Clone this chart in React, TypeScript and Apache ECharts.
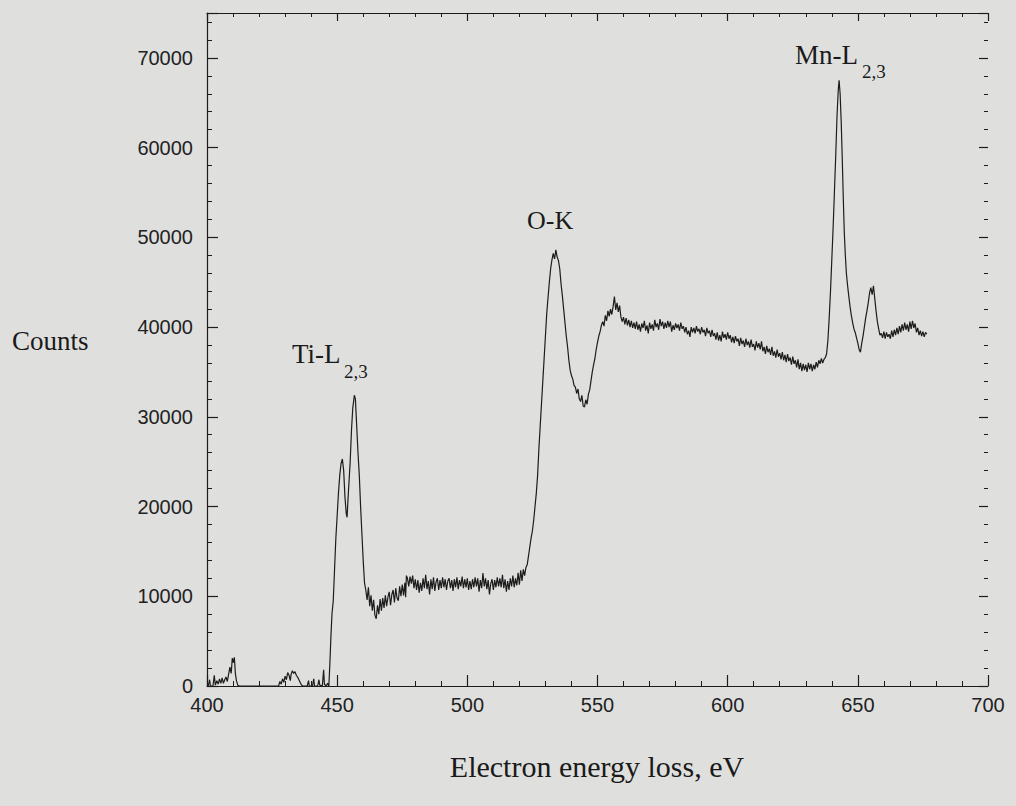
import React, { useEffect, useRef } from "react";
import * as echarts from "echarts";

// ---- data: [energy loss (eV), counts] ----
const preEdge: [number, number][] = [
  [400.5, 0], [401, 700], [401.3, 0], [402.3, 0], [402.8, 1200], [403.2, 100], [403.8, 600], [404.3, 200],
  [404.8, 800], [405.3, 300], [405.8, 900], [406.3, 300], [406.8, 700], [407.3, 1000], [407.8, 500],
  [408.3, 1300], [408.8, 2100], [409.3, 1400], [409.7, 3100], [410.1, 2600], [410.5, 3200], [410.9, 1400],
  [411.3, 600], [411.8, 100], [412.3, 0], [427.5, 0], [428, 500], [428.5, 200], [429, 800], [429.5, 400],
  [430, 1100], [430.5, 700], [431, 1500], [431.5, 1200], [432, 600], [432.3, 1300], [432.8, 1700],
  [433.3, 1400], [433.8, 1600], [434.3, 1200], [434.8, 1000], [435.3, 700], [435.8, 400], [436.3, 100],
  [436.8, 0], [438.5, 0], [439, 600], [439.3, 0], [440.5, 0], [441, 800], [441.3, 0], [442.5, 0],
  [443, 700], [443.3, 100], [444.3, 0], [444.8, 1800], [445.1, 200], [445.8, 0], [446.3, 300],
];

const titaniumEdge: [number, number][] = [
  [446.8, 0], [447.2, 2500], [447.6, 5500], [448, 8000], [448.5, 9500], [449, 13000], [449.5, 16500],
  [450, 19000], [450.5, 21500], [451, 23500], [451.5, 24800], [452, 25300], [452.5, 24000], [453, 21000],
  [453.5, 19200], [453.8, 18800], [454.2, 21000], [455, 25000], [455.5, 28500], [456, 31000], [456.6, 32400],
  [457, 32000], [457.5, 29000], [458, 26000], [458.5, 23500], [459, 20000], [459.5, 17000], [460, 14000],
  [460.5, 11500], [461, 10700], [461.5, 9600], [462, 11000], [462.5, 8900], [463, 10100], [463.5, 8400],
  [464, 9600], [464.5, 7900], [465, 7500], [465.5, 9000], [466, 8000], [466.5, 9700], [467, 8400],
  [467.5, 9800], [468, 8700], [468.5, 10100], [469, 8900], [469.5, 9900], [470, 10500], [470.5, 9000],
  [471, 10200], [471.5, 10700], [472, 9300], [472.5, 10900], [473, 9800], [473.5, 9500], [474, 11100],
  [474.5, 10000], [475, 11300], [475.5, 10100], [476, 11500], [476.3, 9900], [476.6, 12300],
];

const preOxygenPlateau: [number, number][] = [
  [477, 12000], [477.5, 11100], [478, 12200], [478.5, 11400], [479, 12300], [479.5, 10900], [480, 11900],
  [480.5, 10700], [481, 11800], [481.5, 10400], [482, 11500], [482.5, 10600], [483, 12000], [483.5, 10900],
  [484, 12400], [484.5, 10800], [485, 11700], [485.5, 10200], [486, 11900], [486.5, 10800], [487, 12100],
  [487.5, 10600], [488, 11600], [488.5, 12000], [489, 10700], [489.5, 11800], [490, 10900], [490.5, 12100],
  [491, 11000], [491.5, 11900], [492, 10700], [492.5, 11700], [493, 12000], [493.5, 10900], [494, 11800],
  [494.5, 10600], [495, 11900], [495.5, 11000], [496, 12100], [496.5, 10800], [497, 11800], [497.5, 11100],
  [498, 12200], [498.5, 10900], [499, 11900], [499.5, 11000], [500, 12000], [500.5, 10700], [501, 11700],
  [501.5, 10800], [502, 11900], [502.5, 11000], [503, 12100], [503.5, 11100], [504, 12000], [504.5, 10500],
  [505, 11800], [505.5, 10900], [506, 12600], [506.5, 11100], [507, 12000], [507.5, 10800], [508, 11800],
  [508.5, 10200], [509, 11400], [509.5, 11900], [510, 10700], [510.5, 11800], [511, 11000], [511.5, 12100],
  [512, 11100], [512.5, 12000], [513, 11000], [513.5, 12400], [514, 10900], [514.5, 11900], [515, 10500],
  [515.5, 11700], [516, 10700], [516.5, 12000], [517, 11100], [517.5, 12300], [518, 11000], [518.5, 12000],
  [519, 11200], [519.5, 12600], [520, 11300], [520.5, 12900], [521, 11700], [521.5, 13000], [522, 12300],
];

const oxygenEdge: [number, number][] = [
  [522.5, 13200], [523, 13500], [523.5, 14500], [524, 15500], [524.5, 16500], [525, 17300], [525.5, 18500],
  [526, 20000], [526.5, 21500], [527, 23500], [527.5, 26500], [528, 29000], [528.5, 31500], [529, 34000],
  [529.5, 36500], [530, 39000], [530.5, 41500], [531, 43300], [531.5, 45000], [532, 46500], [532.5, 47500],
  [533, 48200], [533.5, 47600], [534, 48600], [534.5, 47800], [535, 47400], [535.5, 46500], [536, 44800],
  [536.5, 43500], [537, 42000], [537.5, 40500], [538, 39000], [538.5, 37800], [539, 36300], [539.5, 35200],
  [540, 34600], [540.5, 34200], [541, 33500], [541.5, 33300], [542, 32600], [542.5, 33100], [543, 32000],
  [543.5, 31700], [544, 32400], [544.5, 31200], [545, 31100], [545.5, 31900], [546, 31400], [546.5, 32500],
  [547, 33000], [547.5, 34000], [548, 35000], [548.5, 35800], [549, 36500], [549.5, 37500], [550, 38300],
  [550.5, 39000], [551, 39500], [551.5, 40200], [552, 40600], [552.5, 40100], [553, 41300], [553.5, 40700],
  [554, 41800], [554.5, 41200], [555, 42000], [555.5, 41400], [556, 42300], [556.5, 43400], [557, 41900],
  [557.5, 42700], [558, 41700], [558.5, 42400], [559, 41100], [559.5, 40600], [560, 41100], [560.5, 40300],
  [561, 41000], [561.5, 40200], [562, 40800], [562.5, 40000], [563, 40700], [563.5, 39900],
];

const postOxygenPlateau: [number, number][] = [
  [564, 40500], [564.5, 39800], [565, 40600], [565.5, 39700], [566, 40300], [566.5, 39500], [567, 40400],
  [567.5, 39900], [568, 40700], [568.5, 39600], [569, 40200], [569.5, 39300], [570, 40500], [570.5, 39800],
  [571, 40300], [571.5, 39600], [572, 40800], [572.5, 40000], [573, 40400], [573.5, 39700], [574, 40900],
  [574.5, 40100], [575, 40600], [575.5, 39800], [576, 40500], [576.5, 39900], [577, 40700], [577.5, 40000],
  [578, 40600], [578.5, 39500], [579, 40200], [579.5, 39700], [580, 40400], [580.5, 39900], [581, 40300],
  [581.5, 39600], [582, 40500], [582.5, 39800], [583, 40100], [583.5, 39400], [584, 40000], [584.5, 39200],
  [585, 39600], [585.5, 38900], [586, 40000], [586.5, 39400], [587, 39900], [587.5, 39300], [588, 40100],
  [588.5, 39500], [589, 39800], [589.5, 39200], [590, 40000], [590.5, 39400], [591, 39700], [591.5, 39000],
  [592, 39900], [592.5, 39300], [593, 39600], [593.5, 38900], [594, 39700], [594.5, 39000], [595, 39300],
  [595.5, 38600], [596, 39400], [596.5, 38500], [597, 39100], [597.5, 38400], [598, 39500], [598.5, 38800],
  [599, 39200], [599.5, 38600], [600, 39400], [600.5, 38700], [601, 39100], [601.5, 38300], [602, 38900],
  [602.5, 38200], [603, 39000], [603.5, 38400], [604, 38700], [604.5, 37900], [605, 38800], [605.5, 38100],
  [606, 38500], [606.5, 37800], [607, 38700], [607.5, 38000], [608, 38400], [608.5, 37700], [609, 38600],
  [609.5, 37800], [610, 38100], [610.5, 37400], [611, 38400], [611.5, 37700], [612, 38200], [612.5, 37500],
  [613, 38400], [613.5, 37300], [614, 37800], [614.5, 37000], [615, 37900], [615.5, 37200], [616, 37600],
  [616.5, 36900], [617, 37800], [617.5, 36800], [618, 37300], [618.5, 36600], [619, 37500], [619.5, 36700],
  [620, 37100], [620.5, 36400], [621, 37200], [621.5, 36300], [622, 36900], [622.5, 36100], [623, 37000],
  [623.5, 36200], [624, 36600], [624.5, 35800], [625, 36700], [625.5, 35900], [626, 36300], [626.5, 35500],
  [627, 36400], [627.5, 35300], [628, 36000], [628.5, 35100], [629, 35900], [629.5, 35200], [630, 35800],
  [630.5, 35000], [631, 36000], [631.5, 35300], [632, 35900], [632.5, 35100], [633, 35800], [633.5, 35300],
  [634, 36100], [634.5, 35500], [635, 36300], [635.5, 35900], [636, 36500], [636.5, 36000], [637, 36400],
];

const manganeseEdge: [number, number][] = [
  [637.5, 36600], [638, 37000], [638.5, 38500], [639, 41000], [639.5, 44000], [640, 47500], [640.5, 51000],
  [641, 55000], [641.5, 59000], [642, 63500], [642.5, 66500], [642.8, 67500], [643.2, 66000], [643.6, 63000],
  [644, 59000], [644.4, 54500], [644.8, 50500], [645.2, 48000], [645.6, 46000], [646, 44800], [646.5, 43500],
  [647, 42300], [647.5, 41300], [648, 40500], [648.5, 39800], [649, 39400], [649.5, 38800], [650, 38200],
  [650.5, 37500], [651, 37200], [651.5, 38200], [652, 39000], [652.5, 40000], [653, 41000], [653.5, 41800],
  [654, 42700], [654.5, 43800], [655, 44400], [655.5, 43600], [656, 44600], [656.5, 43200], [657, 41800],
  [657.5, 40600], [658, 39800], [658.5, 39100], [659, 39300], [659.5, 38800], [660, 39500], [660.5, 38700],
  [661, 39400], [661.5, 38900], [662, 39200], [662.5, 38700], [663, 39600], [663.5, 38900], [664, 39700],
  [664.5, 39100], [665, 39900], [665.5, 39200], [666, 40100], [666.5, 39400], [667, 40300], [667.5, 39600],
  [668, 40500], [668.5, 39700], [669, 40300], [669.5, 39500], [670, 40600], [670.5, 39800], [671, 40700],
  [671.5, 39900], [672, 40400], [672.5, 39400], [673, 39900], [673.5, 39100], [674, 39600], [674.5, 39000],
  [675, 39500], [675.5, 38900], [676, 39400], [676.5, 39200],
];

const xMin = 400;
const xMax = 700;
const xStep = 50;
const yMin = 0;
const yMax = 75000;
const yStep = 10000;

const SERIF = "'Liberation Serif', 'DejaVu Serif', serif";
const SANS = "'Liberation Sans', Arial, sans-serif";
const INK = "#1c1c1c";

export default function App() {
  const ref = useRef<HTMLDivElement>(null);

  useEffect(() => {
    if (!ref.current) return;
    const chart = echarts.init(ref.current, undefined, { renderer: "svg" });
    const spectrum = [
      ...preEdge,
      ...titaniumEdge,
      ...preOxygenPlateau,
      ...oxygenEdge,
      ...postOxygenPlateau,
      ...manganeseEdge,
    ];

    const tickCommon = { show: true, inside: true, length: 11, lineStyle: { color: INK, width: 1.2 } };
    const minorCommon = { show: true, splitNumber: 5, length: 5, lineStyle: { color: INK, width: 1 } };
    const plain = (v: number) => String(v);

    chart.setOption({
      animation: false,
      backgroundColor: "#dfe0de",
      grid: { left: 207, right: 28, top: 13, bottom: 120, containLabel: false },
      xAxis: [
        {
          type: "value",
          min: xMin,
          max: xMax,
          interval: xStep,
          position: "bottom",
          axisLine: { show: true, lineStyle: { color: INK, width: 1.2 } },
          axisTick: tickCommon,
          minorTick: minorCommon,
          splitLine: { show: false },
          axisLabel: { color: "#222", fontSize: 20, fontFamily: SANS, margin: 9, formatter: plain },
        },
        {
          type: "value",
          min: xMin,
          max: xMax,
          interval: xStep,
          position: "top",
          axisLine: { show: true, onZero: false, lineStyle: { color: INK, width: 1.2 } },
          axisTick: { ...tickCommon, length: 8 },
          minorTick: { ...minorCommon, length: 4 },
          splitLine: { show: false },
          axisLabel: { show: false },
        },
      ],
      yAxis: [
        {
          type: "value",
          min: yMin,
          max: yMax,
          interval: yStep,
          position: "left",
          axisLine: { show: true, lineStyle: { color: INK, width: 1.2 } },
          axisTick: tickCommon,
          minorTick: minorCommon,
          splitLine: { show: false },
          axisLabel: {
            color: "#222",
            fontSize: 20,
            fontFamily: SANS,
            margin: 14,
            showMaxLabel: false,
            formatter: plain,
          },
        },
        {
          type: "value",
          min: yMin,
          max: yMax,
          interval: yStep,
          position: "right",
          axisLine: { show: false },
          axisTick: { ...tickCommon, length: 9 },
          minorTick: { ...minorCommon, length: 4 },
          splitLine: { show: false },
          axisLabel: { show: false },
        },
      ],
      series: [
        {
          type: "line",
          data: spectrum,
          xAxisIndex: 0,
          yAxisIndex: 0,
          showSymbol: false,
          symbol: "none",
          lineStyle: { color: INK, width: 1.2 },
          silent: true,
        },
      ],
      graphic: [
        { type: "text", x: 12, y: 327, style: { text: "Counts", font: `27px ${SERIF}`, fill: "#1a1a1a" } },
        {
          type: "text",
          x: 597,
          y: 766,
          style: {
            text: "Electron energy loss, eV",
            font: `30px ${SERIF}`,
            fill: "#1a1a1a",
            textAlign: "center",
            textVerticalAlign: "middle",
          },
        },
        { type: "text", x: 292, y: 340, style: { text: "Ti-L", font: `27px ${SERIF}`, fill: "#1a1a1a" } },
        { type: "text", x: 344, y: 362, style: { text: "2,3", font: `19px ${SERIF}`, fill: "#1a1a1a" } },
        { type: "text", x: 527, y: 207, style: { text: "O-K", font: `26px ${SERIF}`, fill: "#1a1a1a" } },
        { type: "text", x: 795, y: 41, style: { text: "Mn-L", font: `27px ${SERIF}`, fill: "#1a1a1a" } },
        { type: "text", x: 862, y: 62, style: { text: "2,3", font: `19px ${SERIF}`, fill: "#1a1a1a" } },
      ],
    });

    return () => chart.dispose();
  }, []);

  return (
    <div
      ref={ref}
      style={{ position: "fixed", left: 0, top: 0, width: 1016, height: 806 }}
    />
  );
}
